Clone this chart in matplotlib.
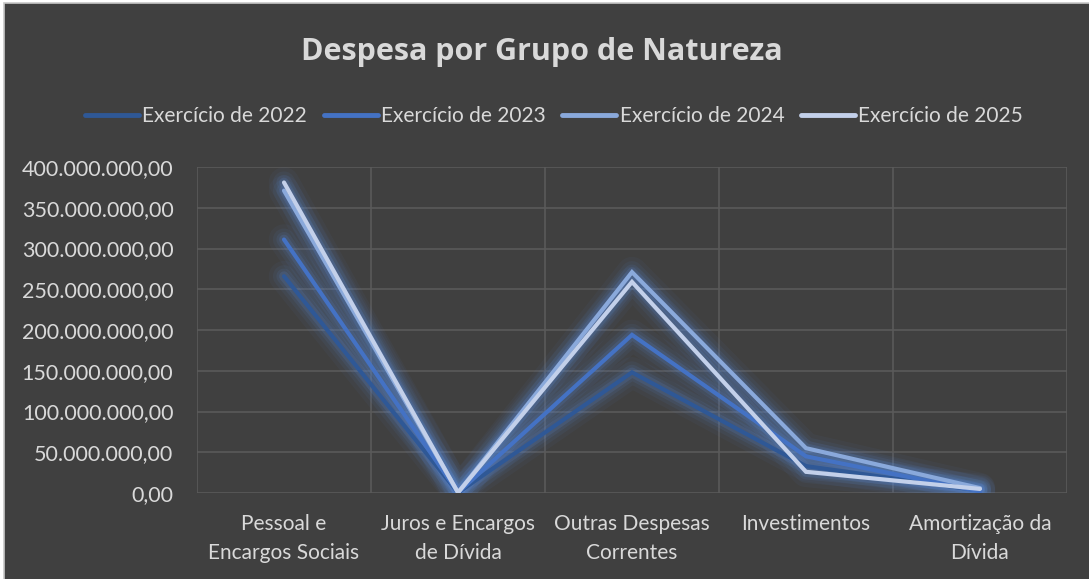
import matplotlib
matplotlib.use("Agg")
import matplotlib.pyplot as plt
from matplotlib.patches import Rectangle
from matplotlib.ticker import FuncFormatter, MultipleLocator, FixedLocator

categories = ["Pessoal e\nEncargos Sociais", "Juros e Encargos\nde Dívida",
              "Outras Despesas\nCorrentes", "Investimentos", "Amortização da\nDívida"]
series_names = ["Exercício de 2022", "Exercício de 2023", "Exercício de 2024", "Exercício de 2025"]
v2022 = [266e6, 0.5e6, 148e6, 33e6, 3e6]
v2023 = [311e6, 0.5e6, 194e6, 45e6, 2e6]
v2024 = [371e6, 0.5e6, 271e6, 55e6, 6e6]
v2025 = [381e6, 0.5e6, 259e6, 26e6, 5e6]
values = [v2022, v2023, v2024, v2025]
colors = ["#2F5896", "#4472C4", "#8AA9DB", "#C3D0EA"]

BG = "#404040"
TXT = "#D9D9D9"
GRID = "#5A5A5A"
FONT = "Lato"

W, H = 1089, 579
fig = plt.figure(figsize=(W / 100, H / 100), dpi=100)
fig.patch.set_facecolor("white")
fig.patches.append(Rectangle((4 / W, -0.05), 1.1, 1.05 - 3 / H, transform=fig.transFigure,
                             facecolor=BG, edgecolor="#C8C8C8", linewidth=1.2, zorder=-10))

ax = fig.add_axes([197 / W, (H - 493) / H, (1067 - 197) / W, (493 - 167) / H])
ax.set_facecolor(BG)
ax.patch.set_alpha(0)
for s in ax.spines.values():
    s.set_visible(False)

x = list(range(len(categories)))
ax.set_xlim(-0.5, len(categories) - 0.5)
ax.set_ylim(0, 400e6)
ax.yaxis.set_major_locator(MultipleLocator(50e6))
ax.xaxis.set_major_locator(FixedLocator(x))
ax.xaxis.set_minor_locator(FixedLocator([i - 0.5 for i in range(len(categories) + 1)]))
ax.grid(True, axis="y", which="major", color=GRID, linewidth=1.2)
ax.grid(True, axis="x", which="minor", color=GRID, linewidth=1.2)
ax.grid(False, axis="x", which="major")
ax.set_axisbelow(True)

def fmt(v, pos):
    s = f"{v:,.2f}"
    return s.replace(",", "X").replace(".", ",").replace("X", ".")

ax.yaxis.set_major_formatter(FuncFormatter(fmt))
ax.set_xticklabels(categories, fontsize=15, color=TXT, family=FONT, linespacing=1.6)
for lab in ax.get_yticklabels():
    lab.set_family(FONT)
    lab.set_fontsize(15.5)
ax.tick_params(axis="y", length=0, pad=17, labelcolor=TXT)
ax.tick_params(axis="x", which="both", length=0, pad=15, labelcolor=TXT)

# glow
for vals in values:
    for lw, a in [(22, 0.05), (16, 0.07), (11, 0.10), (7, 0.16)]:
        ax.plot(x, vals, color="#5B8BD6", linewidth=lw, alpha=a,
                solid_capstyle="round", solid_joinstyle="round", zorder=2)
handles = []
for vals, c, n in zip(values, colors, series_names):
    h, = ax.plot(x, vals, color=c, linewidth=3, solid_capstyle="round",
                 solid_joinstyle="miter", zorder=3, label=n)
    handles.append(h)

fig.text(542 / W, 1 - 52 / H, "Despesa por Grupo de Natureza", ha="center", va="center",
         fontsize=22, fontweight="bold", color=TXT, family="Open Sans")

leg = fig.legend(handles=handles, loc="center", bbox_to_anchor=(554 / W, 1 - 116 / H),
                 ncol=4, frameon=False, handlelength=2.6,
                 handletextpad=0.15, columnspacing=0.8, prop={"family": FONT, "size": 15})
for t in leg.get_texts():
    t.set_color(TXT)
for l in leg.get_lines():
    l.set_linewidth(3.5)

fig.savefig("out.png", dpi=100, facecolor=fig.get_facecolor())
